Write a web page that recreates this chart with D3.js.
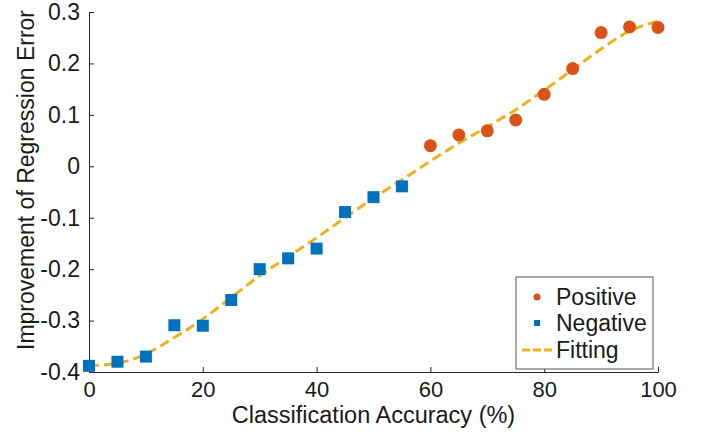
<!DOCTYPE html>
<html>
<head>
<meta charset="utf-8">
<script src="https://cdn.jsdelivr.net/npm/d3@7"></script>
<style>
  body { margin: 0; background: #fff; }
  text { font-family: "Liberation Sans", Arial, sans-serif; fill: #1a1a1a; }
</style>
</head>
<body>
<script>
// data
var negAcc = [0, 5, 10, 15, 20, 25, 30, 35, 40, 45, 50, 55];
var negErr = [-0.388, -0.38, -0.37, -0.309, -0.31, -0.26, -0.20, -0.179, -0.16, -0.089, -0.06, -0.039];
var posAcc = [60, 65, 70, 75, 80, 85, 90, 95, 100];
var posErr = [0.04, 0.061, 0.069, 0.09, 0.14, 0.19, 0.26, 0.271, 0.27];
var fitAcc = [0, 5, 10, 15, 20, 25, 30, 35, 40, 45, 50, 55, 60, 65, 70, 75, 80, 85, 90, 95, 100];
var fitErr = [-0.388, -0.383, -0.365, -0.333, -0.297, -0.255, -0.213, -0.176, -0.139, -0.100, -0.062, -0.026,
              0.010, 0.045, 0.077, 0.110, 0.148, 0.188, 0.228, 0.263, 0.282];
var xTicks = [0, 20, 40, 60, 80, 100];
var yTicks = [-0.4, -0.3, -0.2, -0.1, 0, 0.1, 0.2, 0.3];
var legendNames = ["Positive", "Negative", "Fitting"];

var W = 701, H = 432;
var margin = {top: 12, right: 43, bottom: 60, left: 89};

var blue = "#0072BD", orange = "#D95319", yellow = "#EDB120";

var svg = d3.select("body").append("svg")
    .attr("width", W)
    .attr("height", H);

var x = d3.scaleLinear().domain([0, 100]).range([margin.left, W - margin.right]);
var y = d3.scaleLinear().domain([-0.4, 0.3]).range([H - margin.bottom, margin.top]);

// axes (ticks point inward, like matlab)
var xAxis = svg.append("g")
    .attr("transform", "translate(0," + (H - margin.bottom) + ")")
    .call(d3.axisBottom(x).tickValues(xTicks).tickSizeInner(-5).tickSizeOuter(0).tickPadding(9));
var yAxis = svg.append("g")
    .attr("transform", "translate(" + margin.left + ",0)")
    .call(d3.axisLeft(y).tickValues(yTicks).tickSizeInner(-5).tickSizeOuter(0).tickPadding(9)
        .tickFormat(function(d) { return Math.abs(d) < 1e-9 ? "0" : d.toFixed(1); }));

[xAxis, yAxis].forEach(function(g) {
  g.selectAll("path, line").attr("stroke", "#262626");
  g.selectAll("text").style("font-size", "22px").attr("fill", "#1a1a1a");
});
yAxis.selectAll("text").style("font-size", "23px");

// fitted curve
var line = d3.line()
    .x(function(d, i) { return x(fitAcc[i]); })
    .y(function(d) { return y(d); })
    .curve(d3.curveMonotoneX);
svg.append("path")
    .datum(fitErr)
    .attr("d", line)
    .attr("fill", "none")
    .attr("stroke", yellow)
    .attr("stroke-width", 3)
    .attr("stroke-dasharray", "10,5");

// negative samples: squares
svg.selectAll("rect.neg")
    .data(negErr)
    .enter().append("rect")
    .attr("class", "neg")
    .attr("x", function(d, i) { return x(negAcc[i]) - 6; })
    .attr("y", function(d) { return y(d) - 6; })
    .attr("width", 12)
    .attr("height", 12)
    .attr("fill", blue);

// positive samples: circles
svg.selectAll("circle.pos")
    .data(posErr)
    .enter().append("circle")
    .attr("class", "pos")
    .attr("cx", function(d, i) { return x(posAcc[i]); })
    .attr("cy", function(d) { return y(d); })
    .attr("r", 6.5)
    .attr("fill", orange);

// axis titles
svg.append("text")
    .attr("x", (margin.left + W - margin.right) / 2)
    .attr("y", 423)
    .attr("text-anchor", "middle")
    .style("font-size", "23.5px")
    .text("Classification Accuracy (%)");
svg.append("text")
    .attr("transform", "translate(34,180)rotate(-90)")
    .attr("text-anchor", "middle")
    .style("font-size", "23px")
    .text("Improvement of Regression Error");

// legend
var lg = svg.append("g");
lg.append("rect")
    .attr("x", 516).attr("y", 277)
    .attr("width", 137).attr("height", 92)
    .attr("fill", "#fff")
    .attr("stroke", "#555")
    .attr("stroke-width", 1);
var rowY = [297, 323, 350];
lg.append("circle").attr("cx", 537).attr("cy", rowY[0]).attr("r", 3.5).attr("fill", orange);
lg.append("rect").attr("x", 534).attr("y", rowY[1] - 3).attr("width", 6).attr("height", 6).attr("fill", blue);
lg.append("line")
    .attr("x1", 522).attr("x2", 552)
    .attr("y1", rowY[2]).attr("y2", rowY[2])
    .attr("stroke", yellow).attr("stroke-width", 3).attr("stroke-dasharray", "8,3");
lg.selectAll("text.lab")
    .data(legendNames)
    .enter().append("text")
    .attr("class", "lab")
    .attr("x", 556)
    .attr("y", function(d, i) { return rowY[i] + 8; })
    .style("font-size", "23px")
    .text(function(d) { return d; });
</script>
</body>
</html>
